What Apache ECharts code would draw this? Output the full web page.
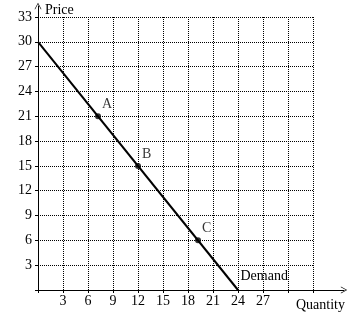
<!DOCTYPE html>
<html><head><meta charset="utf-8">
<script src="https://cdn.jsdelivr.net/npm/echarts@6/dist/echarts.min.js"></script>
<style>html,body{margin:0;padding:0;background:#fff}#c{width:350px;height:330px}</style>
</head><body><div id="c"></div>
<script>
const xTickValues = [3, 6, 9, 12, 15, 18, 21, 24, 27];
const yTickValues = [3, 6, 9, 12, 15, 18, 21, 24, 27, 30, 33];
const demandQ = [0, 24];
const demandP = [30, 0];
const pointNames = ['A', 'B', 'C'];
const pointQ = [7.2, 12, 19.2];
const pointP = [21, 15, 6];
const xName = 'Quantity';
const yName = 'Price';
const lineName = 'Demand';

const FONT = 'Liberation Serif';
const chart = echarts.init(document.getElementById('c'), null, {renderer: 'canvas'});
const arrowPath = 'path://M5,0L10,9L9,9L5,1.8L1,9L0,9Z';
const txt = {color: '#000', fontFamily: FONT, fontSize: 14};

chart.setOption({
  animation: false,
  backgroundColor: '#fff',
  grid: [
    {left: 38, top: 17, width: 275, height: 273},
    {left: 38, top: 6, width: 306, height: 284}
  ],
  xAxis: [
    {
      gridIndex: 0, type: 'value', min: 0, max: 33, interval: 3,
      name: xName, nameLocation: 'end', nameGap: -17,
      nameTextStyle: Object.assign({align: 'left', verticalAlign: 'top', padding: [8, 0, 0, 0]}, txt),
      axisLine: {show: true, lineStyle: {color: '#000', width: 1}},
      axisTick: {show: true, length: 3, lineStyle: {color: '#000'}},
      axisLabel: Object.assign({margin: 4, formatter: v => xTickValues.includes(v) ? String(v) : ''}, txt),
      splitLine: {show: true, lineStyle: {color: '#000', width: 1, type: [1, 1]}}
    },
    {
      gridIndex: 1, type: 'value', min: 0, max: 10,
      axisLine: {show: true, symbol: ['none', arrowPath], symbolSize: [7, 9], lineStyle: {color: '#000', width: 1}},
      axisTick: {show: false}, axisLabel: {show: false}, splitLine: {show: false}
    }
  ],
  yAxis: [
    {
      gridIndex: 0, type: 'value', min: 0, max: 33, interval: 3,
      name: yName, nameLocation: 'end', nameGap: 0,
      nameTextStyle: Object.assign({align: 'left', verticalAlign: 'bottom', padding: [0, 0, 0, 7]}, txt),
      axisLine: {show: true, lineStyle: {color: '#000', width: 1}},
      axisTick: {show: true, length: 3, lineStyle: {color: '#000'}},
      axisLabel: Object.assign({margin: 6, formatter: v => yTickValues.includes(v) ? String(v) : ''}, txt),
      splitLine: {show: true, lineStyle: {color: '#000', width: 1, type: [1, 1]}}
    },
    {
      gridIndex: 1, type: 'value', min: 0, max: 10,
      axisLine: {show: true, symbol: ['none', arrowPath], symbolSize: [7, 9], lineStyle: {color: '#000', width: 1}},
      axisTick: {show: false}, axisLabel: {show: false}, splitLine: {show: false}
    }
  ],
  series: [
    {
      type: 'line', xAxisIndex: 0, yAxisIndex: 0,
      data: demandQ.map((q, i) => [q, demandP[i]]),
      showSymbol: false, symbol: 'none',
      lineStyle: {color: '#000', width: 2},
      z: 5,
      markPoint: {
        symbol: 'circle', symbolSize: 1, itemStyle: {color: 'rgba(0,0,0,0)'},
        data: [{coord: [demandQ[demandQ.length - 1], demandP[demandP.length - 1]], value: lineName,
          label: Object.assign({show: true, formatter: lineName, position: [3, -20], align: 'left', verticalAlign: 'top'}, txt)}]
      }
    },
    {
      type: 'scatter', xAxisIndex: 0, yAxisIndex: 0,
      data: pointQ.map((q, i) => ({value: [q, pointP[i]], name: pointNames[i]})),
      symbol: 'circle', symbolSize: 6,
      itemStyle: {color: '#000'},
      z: 6,
      label: Object.assign({show: true, formatter: p => p.name, position: [7, -16], align: 'left', verticalAlign: 'top'}, txt)
    }
  ]
});
</script>
</body></html>
